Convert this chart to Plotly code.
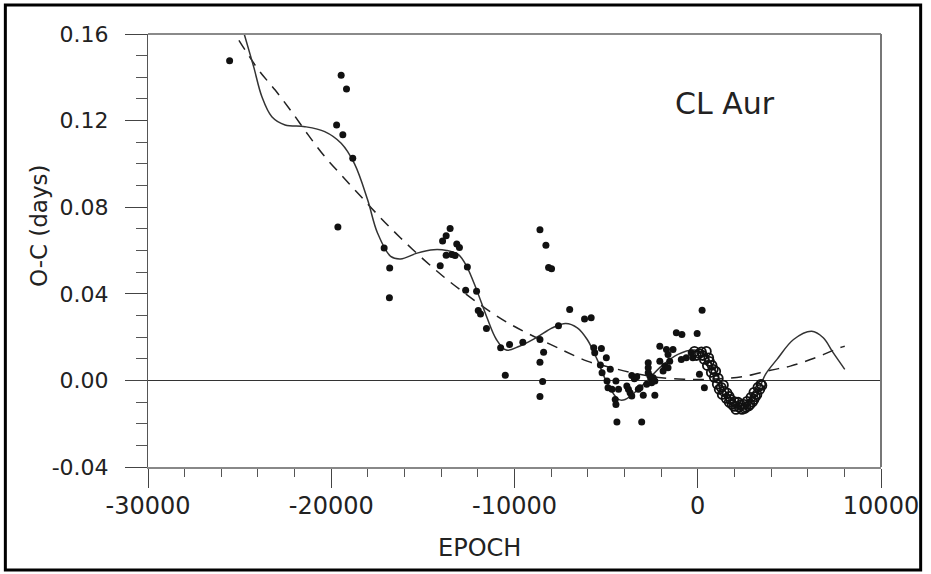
import plotly.graph_objects as go

# ---- observed O-C (filled dots) ----
dots_epoch = [-25546, -19459, -19168, -19708, -19368, -18827, -19638, -17114, -16811, -16827,
              -13514, -13730, -13924, -13151, -13005, -13730, -13422, -13243, -14054, -12573,
              -12665, -12070, -11978, -11854, -11530, -10757, -10270, -10503, -9546, -8611,
              -8611, -8286, -8141, -7978, -8411, -8611, -8465, -8611, -7600, -6989,
              -6178, -5816, -5676, -5259, -5622, -4989, -5314, -4773, -5222, -4951,
              -4465, -4897, -4681, -4324, -4503, -4465, -4411, -3059, -3870, -3784,
              -3692, -3600, -3600, -3459, -3330, -3243, -3151, -2973, -2703, -2703,
              -2703, -2611, -2519, -2432, -2519, -2341, -2789, -2341, -2070, -2070,
              -1800, -1892, -1708, -1622, -1351, -1530, -1622, -1168, -865, -897,
              -627, -357, -270, -32, 238, 92, 362]
dots_oc = [0.1476, 0.1410, 0.1346, 0.1180, 0.1135, 0.1026, 0.0708, 0.0612, 0.0519, 0.0382,
           0.0702, 0.0668, 0.0644, 0.0630, 0.0614, 0.0578, 0.0581, 0.0577, 0.0530, 0.0524,
           0.0416, 0.0412, 0.0323, 0.0307, 0.0240, 0.0151, 0.0166, 0.0024, 0.0176, 0.0189,
           0.0696, 0.0624, 0.0521, 0.0516, 0.0130, 0.0084, -0.0005, -0.0074, 0.0253, 0.0327,
           0.0284, 0.0289, 0.0151, 0.0147, 0.0128, 0.0105, 0.0071, 0.0051, 0.0035, -0.0003,
           -0.0003, -0.0034, -0.0041, -0.0041, -0.0088, -0.0111, -0.0192, -0.0192, -0.0026, -0.0041,
           -0.0057, -0.0072, 0.0023, 0.0008, 0.0017, -0.0041, -0.0034, -0.0069, 0.0082, 0.0059,
           0.0035, 0.0020, 0.0005, 0.0012, -0.0011, -0.0003, -0.0018, -0.0069, 0.0158, 0.0089,
           0.0066, 0.0043, 0.0143, 0.0120, 0.0143, 0.0089, 0.0059, 0.0220, 0.0212, 0.0097,
           0.0105, 0.0128, 0.0105, 0.0217, 0.0324, 0.0028, -0.0034]

# ---- recent observations (open circles) ----
circ_epoch = [-180, -70, 90, 200, 275, 360, 470, 525, 600, 635, 740, 780, 850, 900, 980,
              1065, 1120, 1170, 1280, 1335, 1400, 1440, 1550, 1600, 1715, 1715, 1800, 1875,
              1985, 2000, 2090, 2200, 2255, 2330, 2415, 2525, 2560, 2635, 2690, 2780, 2850,
              2905, 2990, 3065, 3065, 3150, 3230, 3285, 3390, 3445, 3500]
circ_oc = [0.0134, 0.0115, 0.0124, 0.0132, 0.0115, 0.0097, 0.0134, 0.0069, 0.0104, 0.0088,
           0.0037, 0.0070, 0.0051, 0.0014, 0.0042, -0.0018, 0.0010, -0.0041, -0.0032, -0.0065,
           -0.0022, -0.0051, -0.0083, -0.0058, -0.0101, -0.0074, -0.0088, -0.0111, -0.0120,
           -0.0098, -0.0134, -0.0101, -0.0124, -0.0112, -0.0134, -0.0111, -0.0130, -0.0124,
           -0.0097, -0.0118, -0.0111, -0.0078, -0.0100, -0.0055, -0.0088, -0.0075, -0.0065,
           -0.0032, -0.0041, -0.0018, -0.0023]

# ---- fitted curves ----
solid_epoch = [-24750, -24232, -23784, -23243, -22519, -21438, -20357, -19459, -18735, -18016,
               -17476, -16757, -16216, -15314, -14411, -13692, -13059, -12611, -12070, -11530,
               -10989, -10449, -9730, -8827, -7924, -7205, -6573, -6032, -5492, -4951,
               -4324, -3962, -3059, -1978, -1081, -178, 362, 903, 1443, 1984,
               2524, 3243, 3697, 4324, 5227, 6216, 6849, 7389, 8022]
solid_oc = [0.1600, 0.1448, 0.1310, 0.1218, 0.1180, 0.1172, 0.1149, 0.1095, 0.1001, 0.0834,
            0.0681, 0.0573, 0.0561, 0.0588, 0.0604, 0.0600, 0.0581, 0.0527, 0.0419, 0.0296,
            0.0189, 0.0140, 0.0158, 0.0197, 0.0243, 0.0263, 0.0243, 0.0189, 0.0097, -0.0011,
            -0.0088, -0.0088, -0.0026, 0.0066, 0.0120, 0.0140, 0.0120, 0.0051, -0.0041, -0.0126,
            -0.0126, -0.0057, 0.0028, 0.0097, 0.0189, 0.0227, 0.0197, 0.0128, 0.0051]

dash_epoch = [-25038, -23957, -23059, -22162, -21259, -20357, -19368, -18378, -17297, -16216,
              -14951, -13784, -12611, -11351, -10086, -7384, -6032, -4770, -3420, -1978,
              -719, 0, 1200, 2432, 3968, 5049, 6308, 7751, 8022]
dash_oc = [0.1571, 0.1433, 0.1341, 0.1241, 0.1134, 0.1034, 0.0941, 0.0849, 0.0750, 0.0658,
           0.0558, 0.0473, 0.0396, 0.0319, 0.0253, 0.0140, 0.0089, 0.0060, 0.0032, 0.0012,
           0.0005, 0.0004, 0.0008, 0.0017, 0.0047, 0.0066, 0.0101, 0.0151, 0.0158]

x_tick_vals = [-30000, -20000, -10000, 0, 10000]
x_tick_labels = ["-30000", "-20000", "-10000", "0", "10000"]
y_tick_vals = [-0.04, 0.0, 0.04, 0.08, 0.12, 0.16]
y_tick_labels = ["-0.04", "0.00", "0.04", "0.08", "0.12", "0.16"]

FONT = "DejaVu Sans"

fig = go.Figure()
fig.add_trace(go.Scatter(x=dash_epoch, y=dash_oc, mode="lines", line_shape="spline",
                         line=dict(color="#222", width=1.5, dash="11px,8px"),
                         showlegend=False, hoverinfo="skip"))
fig.add_trace(go.Scatter(x=solid_epoch, y=solid_oc, mode="lines", line_shape="spline",
                         line=dict(color="#333", width=1.5, smoothing=1.0),
                         showlegend=False, hoverinfo="skip"))
fig.add_trace(go.Scatter(x=dots_epoch, y=dots_oc, mode="markers",
                         marker=dict(symbol="circle", size=7, color="#111"),
                         showlegend=False))
fig.add_trace(go.Scatter(x=circ_epoch, y=circ_oc, mode="markers",
                         marker=dict(symbol="circle-open", size=9, color="#111",
                                     line=dict(width=1.8)),
                         showlegend=False))

fig.add_annotation(x=1500, y=0.128, xref="x", yref="y", text="CL Aur", showarrow=False,
                   font=dict(family=FONT, size=30, color="#222"))
# axis titles
fig.add_annotation(x=-0.169, y=0.5566, xref="paper", yref="paper", text="O-C (days)",
                   textangle=-90, showarrow=False,
                   font=dict(family=FONT, size=23, color="#222"))
fig.add_annotation(x=0.452, y=-0.187, xref="paper", yref="paper", text="EPOCH",
                   showarrow=False, xanchor="center", yanchor="middle",
                   font=dict(family=FONT, size=24, color="#222"))

# frame lines (top, right) and outer black border
fig.add_shape(type="line", xref="paper", yref="paper", x0=0, x1=1, y0=1, y1=1,
              line=dict(color="#8a8a8a", width=2))
fig.add_shape(type="line", xref="paper", yref="paper", x0=1, x1=1, y0=0, y1=1,
              line=dict(color="#777", width=2))
fig.add_shape(type="rect", xref="paper", yref="paper", x0=-0.1946, x1=1.0541,
              y0=-0.2379, y1=1.067, line=dict(color="black", width=3))

fig.update_layout(
    width=931, height=574, autosize=False,
    margin=dict(l=148, r=43, t=34, b=107),
    paper_bgcolor="white", plot_bgcolor="white",
    font=dict(family=FONT, color="#222"),
    showlegend=False,
)
fig.update_xaxes(
    range=[-30000, 10000], tickvals=x_tick_vals, ticktext=x_tick_labels,
    showgrid=False, zeroline=False, showline=True, linecolor="#888", linewidth=2,
    ticks="outside", ticklen=19, tickcolor="#444", tickwidth=1,
    minor=dict(dtick=2000, ticks="outside", ticklen=8, tickcolor="#555", tickwidth=1),
    tickfont=dict(family=FONT, size=24, color="#222"), ticklabelstandoff=-3,
)
fig.update_yaxes(
    range=[-0.04, 0.16], tickvals=y_tick_vals, ticktext=y_tick_labels,
    showgrid=False, zeroline=True, zerolinecolor="#333", zerolinewidth=1,
    showline=True, linecolor="#555", linewidth=1,
    ticks="outside", ticklen=22, tickcolor="#444", tickwidth=1,
    minor=dict(dtick=0.01, ticks="outside", ticklen=11, tickcolor="#555", tickwidth=1),
    tickfont=dict(family=FONT, size=22, color="#222"), ticklabelstandoff=12,
)

fig.write_html("out.html",
               config={"displayModeBar": False, "responsive": False},
               post_script="document.body.style.margin='0';document.body.style.padding='0';"
                           "document.documentElement.style.overflow='hidden';"
                           "document.body.style.overflow='hidden';")
